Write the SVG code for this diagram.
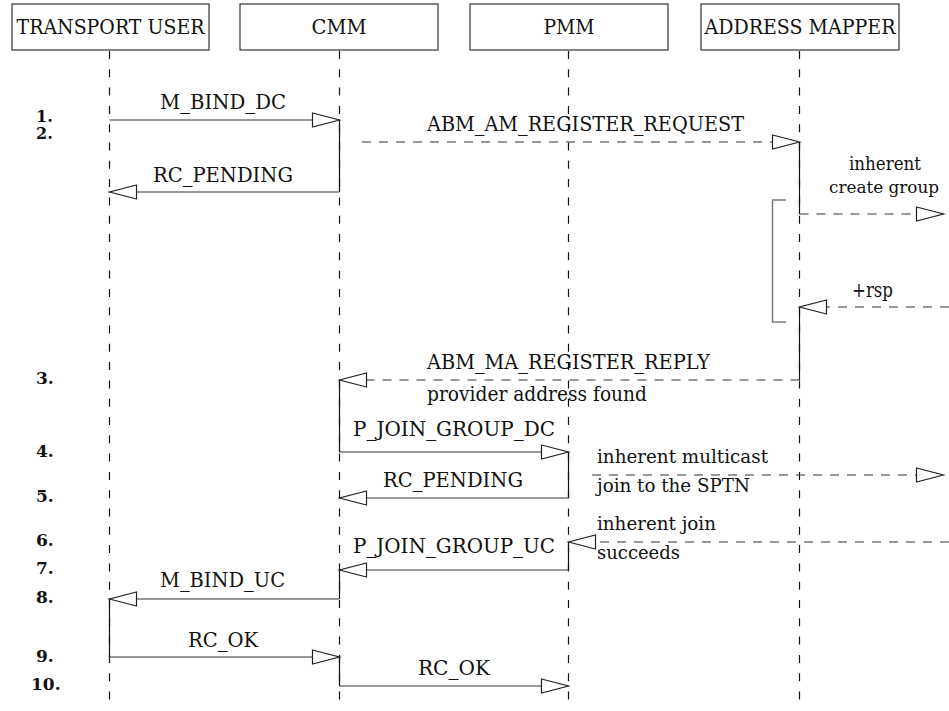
<svg xmlns="http://www.w3.org/2000/svg" width="949" height="711" viewBox="0 0 949 711">
<style>
text{font-family:'DejaVu Serif','Liberation Serif',serif}
.box{fill:#fff;stroke:#333;stroke-width:1.2}
.bl{font-size:20px;fill:#111;text-anchor:middle}
.lbl{font-size:20px;fill:#111}
.sm{font-size:19px;fill:#111}
.num{font-size:17px;font-weight:bold;fill:#111}
.life{stroke:#111;stroke-width:1.2;stroke-dasharray:8 10.3;fill:none}
.act{stroke:#111;stroke-width:1.2;fill:none}
.msg{stroke:#333;stroke-width:1.2;fill:none;marker-end:url(#ah)}
.dmsg{stroke:#333;stroke-width:1.2;fill:none;stroke-dasharray:9 8;marker-end:url(#ah)}
.brk{stroke:#777;stroke-width:1.5;fill:none}
</style>
<defs>
<marker id="ah" markerUnits="userSpaceOnUse" markerWidth="30" markerHeight="16" refX="27" refY="7" orient="auto" overflow="visible">
<path d="M0,0 L27,7 L0,14 Z" fill="#fff" stroke="#222" stroke-width="1.2" stroke-dasharray="none"/>
</marker>
</defs>
<rect width="949" height="711" fill="#fff"/>
<g id="lifelines">
<line class="life" x1="109.5" y1="51" x2="109.5" y2="708"/>
<line class="life" x1="339.5" y1="51" x2="339.5" y2="708"/>
<line class="life" x1="568.5" y1="51" x2="568.5" y2="708"/>
<line class="life" x1="799.5" y1="51" x2="799.5" y2="708"/>
</g>
<g id="node-transport-user">
<rect class="box" x="12" y="4" width="197" height="46"/>
<text class="bl" x="110.5" y="34" textLength="188" lengthAdjust="spacingAndGlyphs">TRANSPORT USER</text>
</g>
<g id="node-cmm">
<rect class="box" x="240" y="4" width="198" height="46"/>
<text class="bl" x="339" y="34" textLength="55" lengthAdjust="spacingAndGlyphs">CMM</text>
</g>
<g id="node-pmm">
<rect class="box" x="470" y="4" width="198" height="46"/>
<text class="bl" x="569" y="34" textLength="51" lengthAdjust="spacingAndGlyphs">PMM</text>
</g>
<g id="node-address-mapper">
<rect class="box" x="701" y="4" width="198" height="46"/>
<text class="bl" x="800" y="34" textLength="191" lengthAdjust="spacingAndGlyphs">ADDRESS MAPPER</text>
</g>
<g id="activations">
<line class="act" x1="109.5" y1="599" x2="109.5" y2="657"/>
<line class="act" x1="339.5" y1="120" x2="339.5" y2="192"/>
<line class="act" x1="339.5" y1="380" x2="339.5" y2="452"/>
<line class="act" x1="339.5" y1="570" x2="339.5" y2="599"/>
<line class="act" x1="339.5" y1="657" x2="339.5" y2="686"/>
<line class="act" x1="568.5" y1="452" x2="568.5" y2="498"/>
<line class="act" x1="568.5" y1="542" x2="568.5" y2="570"/>
<line class="act" x1="799.5" y1="142" x2="799.5" y2="214"/>
<line class="act" x1="799.5" y1="307" x2="799.5" y2="380"/>
</g>
<path id="bracket" class="brk" d="M786,200 H772.5 V322 H786"/>
<g id="connectors">
<line class="msg" x1="109.5" y1="120" x2="339.5" y2="120"/>
<line class="dmsg" x1="362" y1="142" x2="799.5" y2="142"/>
<line class="msg" x1="339.5" y1="192" x2="109.5" y2="192"/>
<line class="dmsg" x1="799.5" y1="214" x2="943.5" y2="214"/>
<line class="dmsg" x1="949" y1="307" x2="799.5" y2="307"/>
<line class="dmsg" x1="799.5" y1="380" x2="339.5" y2="380"/>
<line class="msg" x1="339.5" y1="452" x2="568.5" y2="452"/>
<line class="dmsg" x1="592" y1="475" x2="943.5" y2="475"/>
<line class="msg" x1="568.5" y1="498" x2="339.5" y2="498"/>
<line class="dmsg" x1="949" y1="542" x2="568.5" y2="542"/>
<line class="msg" x1="568.5" y1="570" x2="339.5" y2="570"/>
<line class="msg" x1="339.5" y1="599" x2="109.5" y2="599"/>
<line class="msg" x1="109.5" y1="657" x2="339.5" y2="657"/>
<line class="msg" x1="339.5" y1="686" x2="568.5" y2="686"/>
</g>
<g id="labels">
<text class="lbl" x="160" y="109" textLength="126" lengthAdjust="spacingAndGlyphs">M_BIND_DC</text>
<text class="lbl" x="153" y="182" textLength="140" lengthAdjust="spacingAndGlyphs">RC_PENDING</text>
<text class="lbl" x="427" y="131" textLength="317" lengthAdjust="spacingAndGlyphs">ABM_AM_REGISTER_REQUEST</text>
<text class="sm" x="849" y="170" textLength="72" lengthAdjust="spacingAndGlyphs">inherent</text>
<text class="sm" x="829" y="193" font-size="17" textLength="110" lengthAdjust="spacingAndGlyphs" style="font-size:17px">create group</text>
<text class="lbl" x="852" y="297" textLength="41" lengthAdjust="spacingAndGlyphs">+rsp</text>
<text class="lbl" x="427" y="369" textLength="283" lengthAdjust="spacingAndGlyphs">ABM_MA_REGISTER_REPLY</text>
<text class="lbl" x="427" y="401" textLength="220" lengthAdjust="spacingAndGlyphs">provider address found</text>
<text class="lbl" x="353" y="436" textLength="202" lengthAdjust="spacingAndGlyphs">P_JOIN_GROUP_DC</text>
<text class="lbl" x="383" y="487" textLength="140" lengthAdjust="spacingAndGlyphs">RC_PENDING</text>
<text class="sm" x="597" y="463" textLength="171" lengthAdjust="spacingAndGlyphs">inherent multicast</text>
<text class="sm" x="597" y="492" textLength="153" lengthAdjust="spacingAndGlyphs">join to the SPTN</text>
<text class="sm" x="597" y="530" textLength="119" lengthAdjust="spacingAndGlyphs">inherent join</text>
<text class="sm" x="597" y="559" textLength="83" lengthAdjust="spacingAndGlyphs">succeeds</text>
<text class="lbl" x="353" y="553" textLength="202" lengthAdjust="spacingAndGlyphs">P_JOIN_GROUP_UC</text>
<text class="lbl" x="160" y="587" textLength="125" lengthAdjust="spacingAndGlyphs">M_BIND_UC</text>
<text class="lbl" x="188" y="647" textLength="70" lengthAdjust="spacingAndGlyphs">RC_OK</text>
<text class="lbl" x="418" y="675" textLength="72" lengthAdjust="spacingAndGlyphs">RC_OK</text>
</g>
<g id="step-numbers">
<text class="num" x="36" y="122" style="font-size:16px">1.</text>
<text class="num" x="36" y="139" style="font-size:16px">2.</text>
<text class="num" x="36" y="384">3.</text>
<text class="num" x="36" y="457">4.</text>
<text class="num" x="36" y="502">5.</text>
<text class="num" x="36" y="546">6.</text>
<text class="num" x="36" y="574">7.</text>
<text class="num" x="36" y="603">8.</text>
<text class="num" x="36" y="662">9.</text>
<text class="num" x="31" y="690">10.</text>
</g>
</svg>
